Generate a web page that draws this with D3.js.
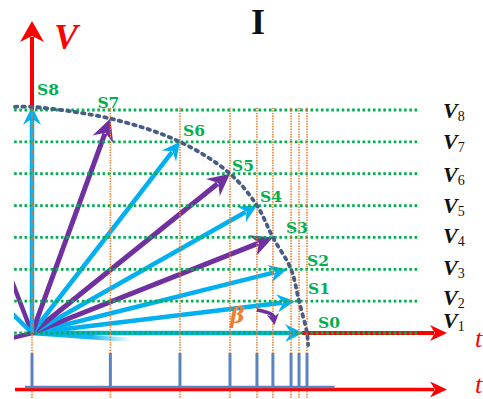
<!DOCTYPE html>
<html><head><meta charset="utf-8">
<script src="https://cdn.jsdelivr.net/npm/d3@7"></script>
<style>body{margin:0;background:#fff}svg{display:block}</style>
</head><body>
<script>
// ---- data ----
const sLabels = ["S0","S1","S2","S3","S4","S5","S6","S7","S8"];
const sT      = [1.0, 0.971, 0.942, 0.876, 0.818, 0.72, 0.538, 0.285, 0];
const sV      = [1, 2, 3, 4, 5, 6, 7, 7.73, 8.1];
const sKind   = ["c","c","c","p","c","p","c","p","c"];
const vLevels = [1, 2, 3, 4, 5, 6, 7, 8];
const vSubs   = ["1","2","3","4","5","6","7","8"];
const curveEnds = [[-0.062, 8.1], [1.004, 0.62]];
const extraRayT = [-0.13, -0.13, -0.13, 0.36];
const extraRayV = [3.9, 2.1, 0.72, 0.78];
const extraRayKind = ["p","c","p","c"];

// ---- layout ----
const W = 483, H = 399;
const x = d3.scaleLinear().domain([0, 1]).range([32, 307]);
const y = d3.scaleLinear().domain([1, 8]).range([333, 110]);
const col = {c:"#00b0f0", p:"#7030a0", green:"#00b050", orange:"#ed7d31", red:"#ff0000", dots:"#485d85", spike:"#5b83c0"};
const labelOff = [[11,-5],[9,-7],[16,-3],[13,-4],[3,-4],[2,-3],[3,-6],[-13,-11],[5,-12]];
const vLabelDy = [-5, 4, 6, 6, 7, 8, 7, 8];

const svg = d3.select("body").append("svg").attr("width", W).attr("height", H);
const defs = svg.append("defs");
defs.append("clipPath").attr("id","fanclip").append("rect")
  .attr("x", 14).attr("y", 0).attr("width", W).attr("height", 341);
const grad = defs.append("linearGradient").attr("id","fade").attr("gradientUnits","userSpaceOnUse")
  .attr("x1", x(0)).attr("x2", x(0.36)).attr("y1",0).attr("y2",0);
grad.append("stop").attr("offset","0").attr("stop-color",col.c).attr("stop-opacity",1);
grad.append("stop").attr("offset","0.6").attr("stop-color",col.c).attr("stop-opacity",0.9);
grad.append("stop").attr("offset","1").attr("stop-color",col.c).attr("stop-opacity",0);

function head(g, tx, ty, ux, uy, L, Wd, N, fill) {
  const nx = -uy, ny = ux;
  const bx = tx - L*ux, by = ty - L*uy;
  const pts = [[tx,ty],[bx+Wd*nx, by+Wd*ny],[tx-(L-N)*ux, ty-(L-N)*uy],[bx-Wd*nx, by-Wd*ny]];
  g.append("polygon").attr("points", pts.map(p=>p.join(",")).join(" ")).attr("fill", fill);
}
function arrow(g, x0, y0, x1, y1, color, sw, L, Wd, N) {
  const dx = x1-x0, dy = y1-y0, len = Math.hypot(dx,dy), ux = dx/len, uy = dy/len;
  g.append("line").attr("x1",x0).attr("y1",y0)
    .attr("x2", x1-(L-N+1)*ux).attr("y2", y1-(L-N+1)*uy)
    .attr("stroke", color).attr("stroke-width", sw);
  head(g, x1, y1, ux, uy, L, Wd, N, color);
}

// red axes
const axes = svg.append("g");
arrow(axes, x(0), y(1), x(0), 21, col.red, 4, 21, 12, 6);
arrow(axes, x(0.982), y(1), 447, y(1), col.red, 4, 17, 8, 5);

// fan rays (cropped)
const fan = svg.append("g").attr("clip-path","url(#fanclip)");
extraRayT.forEach((t,i)=>{
  fan.append("line").attr("x1",x(0)).attr("y1",y(1)).attr("x2",x(t)).attr("y2",y(extraRayV[i]))
    .attr("stroke", i===3 ? "url(#fade)" : col[extraRayKind[i]]).attr("stroke-width", 4.5);
});
// main arrows
sT.forEach((t,i)=>{
  const k = sKind[i];
  if (k === "p") arrow(fan, x(0), y(1), x(t), y(sV[i]), col.p, 5, 22, 11, 7);
  else arrow(fan, x(0), y(1), x(t)-(i<3?4:0), y(sV[i]), col.c, 4.5, 18, 9, 6);
});

// green horizontal dotted lines
const grid = svg.append("g");
vLevels.forEach(v=>{
  grid.append("line").attr("x1", x(-0.065)).attr("x2", x(1.41)).attr("y1", y(v)).attr("y2", y(v))
    .attr("stroke", col.green).attr("stroke-width", 2.8).attr("stroke-dasharray","2.6,2.6");
});
// orange verticals
sT.forEach(t=>{
  grid.append("line").attr("x1", x(t)).attr("x2", x(t)).attr("y1", y(8.07)).attr("y2", H)
    .attr("stroke", col.orange).attr("stroke-width", 1.6).attr("stroke-dasharray","1.4,1.2");
});

// dotted curve
const cpts = [curveEnds[0]].concat(sT.map((t,i)=>[t,sV[i]]).reverse(), [curveEnds[1]]);
svg.append("path").attr("d", d3.line().x(d=>x(d[0])).y(d=>y(d[1])).curve(d3.curveCatmullRom)(cpts))
  .attr("fill","none").attr("stroke", col.dots).attr("stroke-width", 3.8)
  .attr("stroke-dasharray","2.5,5").attr("stroke-linecap","round");

// beta arc
const bg = svg.append("g");
const b0 = [x(0.818), y(1.72)], bc = [x(0.885), y(1.62)], b1 = [x(0.882), y(1.25)];
bg.append("path").attr("d", `M${b0[0]},${b0[1]} Q${bc[0]},${bc[1]} ${b1[0]-1},${b1[1]-7}`)
  .attr("fill","none").attr("stroke", col.p).attr("stroke-width", 3.5);
head(bg, b1[0], b1[1], 0.15, 0.99, 11, 6, 3, col.p);
svg.append("text").attr("x", x(0.72)).attr("y", y(1.3)).text("β")
  .attr("font-family","DejaVu Serif").attr("font-style","italic").attr("font-weight","bold")
  .attr("font-size", 22).attr("fill", col.orange);

// S labels
sLabels.forEach((s,i)=>{
  svg.append("text").attr("x", x(sT[i])+labelOff[i][0]).attr("y", y(sV[i])+labelOff[i][1])
    .text(s).attr("font-family","DejaVu Serif").attr("font-weight","bold")
    .attr("font-size", 15.5).attr("fill", col.green);
});

// V labels
vLevels.forEach((v,i)=>{
  const t = svg.append("text").attr("x", 443).attr("y", y(v) + vLabelDy[i])
    .attr("font-family","Liberation Serif").attr("font-style","italic").attr("font-weight","bold")
    .attr("font-size", 22).attr("fill", "#111");
  t.append("tspan").text("V");
  t.append("tspan").attr("dy", 3).attr("font-size", 14).attr("font-style","normal").attr("font-weight","normal").text(vSubs[i]);
});

// axis labels and title
svg.append("text").attr("x", 54).attr("y", 49).text("V")
  .attr("font-family","Liberation Serif").attr("font-style","italic").attr("font-weight","bold")
  .attr("font-size", 36).attr("fill", col.red);
svg.append("text").attr("x", 475).attr("y", 347).text("t")
  .attr("font-family","Liberation Serif").attr("font-style","italic").attr("font-size", 26).attr("fill", col.red);
svg.append("text").attr("x", 475).attr("y", 393).text("t")
  .attr("font-family","Liberation Serif").attr("font-style","italic").attr("font-size", 26).attr("fill", col.red);
svg.append("text").attr("x", 258).attr("y", 34).attr("text-anchor","middle").text("I")
  .attr("font-family","Liberation Serif").attr("font-weight","bold").attr("font-size", 36).attr("fill", "#111");

// bottom timeline
const tl = svg.append("g");
arrow(tl, 15, 389.5, 447, 389.5, col.red, 3.5, 17, 8, 5);
tl.append("line").attr("x1", 25).attr("x2", x(1.1)).attr("y1", 387).attr("y2", 387)
  .attr("stroke", col.spike).attr("stroke-width", 2.5);
sT.forEach(t=>{
  tl.append("line").attr("x1", x(t)).attr("x2", x(t)).attr("y1", 353).attr("y2", 387)
    .attr("stroke", col.spike).attr("stroke-width", 3);
});
</script>
</body></html>
